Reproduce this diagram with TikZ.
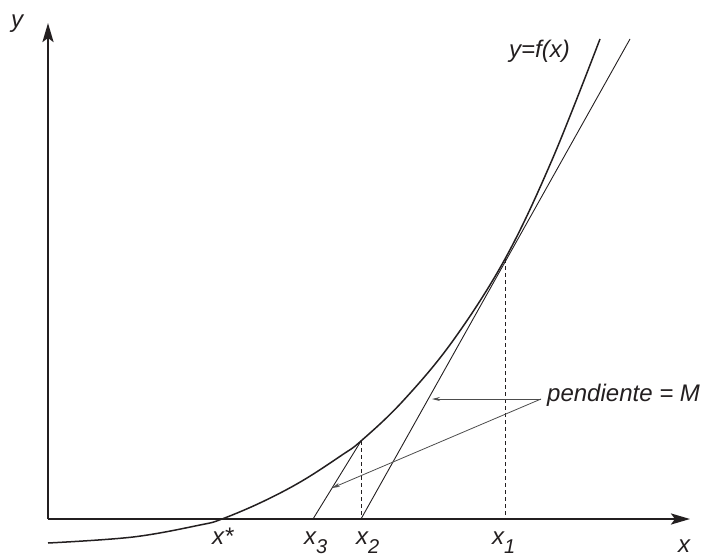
\documentclass[tikz,border=0pt]{standalone}
\usepackage{fontspec}
\setmainfont{Liberation Sans}
\usetikzlibrary{arrows.meta}
\definecolor{ink}{HTML}{231F20}
\newcommand{\sbs}[1]{\raisebox{-9pt}{\fontsize{20}{20}\selectfont #1}}
\begin{document}
\begin{tikzpicture}[x=1pt,y=-1pt,
  axisline/.style={line width=2.4pt, draw=ink, -{Stealth[length=19pt,width=11pt,inset=4pt]}},
  curveline/.style={line width=1.5pt, draw=ink},
  tanline/.style={line width=0.9pt, draw=ink},
  guide/.style={line width=0.9pt, draw=ink, dash pattern=on 4pt off 3pt},
  pointer/.style={line width=0.8pt, draw=black!70, -{Stealth[length=8pt,width=4pt]}},
  lbl/.style={font=\fontsize{24}{28}\selectfont\itshape, text=ink, inner sep=0pt, anchor=base west}]
\useasboundingbox (0,0) rectangle (701,557);
% coordinates
\coordinate (O) at (48,519);
\coordinate (Ytip) at (48,23);
\coordinate (Xtip) at (690,519);
\coordinate (X3) at (313,519);
\coordinate (X2) at (361,519);
\coordinate (X1) at (505,519);
\coordinate (P2) at (361,441);
\coordinate (P1) at (505,259);
\coordinate (T1) at (630,39);
\coordinate (S) at (541,399);
\coordinate (A1) at (432,399);
\coordinate (A2) at (332,488);
% axes
\draw[axisline] (O) -- (Ytip);
\draw[axisline] (O) -- (Xtip);
% curve
\draw[curveline] plot[smooth, tension=0.6] coordinates {(48,543) (133,537) (200,525) (222,519) (262,502) (302,481) (342,455) (361,441) (402,402) (452,342) (505,259) (552,160) (600,39)};
% tangent / chord lines
\draw[tanline] (X2) -- (T1);
\draw[tanline] (X3) -- (P2);
% guides
\draw[guide] (P2) -- (X2);
\draw[guide] (P1) -- (X1);
% pointers
\draw[pointer] (S) -- (A1);
\draw[pointer] (S) -- (A2);
% labels
\node[lbl] (ly) at (11,27) {y};
\node[lbl] (lf) at (509,57) {y=f(x)};
\node[lbl] (lm) at (547,401) {pendiente = M};
\node[lbl] (lxs) at (212,544) {x*};
\node[lbl] (lx3) at (304,544) {x\sbs{3}};
\node[lbl] (lx2) at (356,544) {x\sbs{2}};
\node[lbl] (lx1) at (492,544) {x\sbs{1}};
\node[lbl] (lx) at (678,552) {x};
\end{tikzpicture}
\end{document}
